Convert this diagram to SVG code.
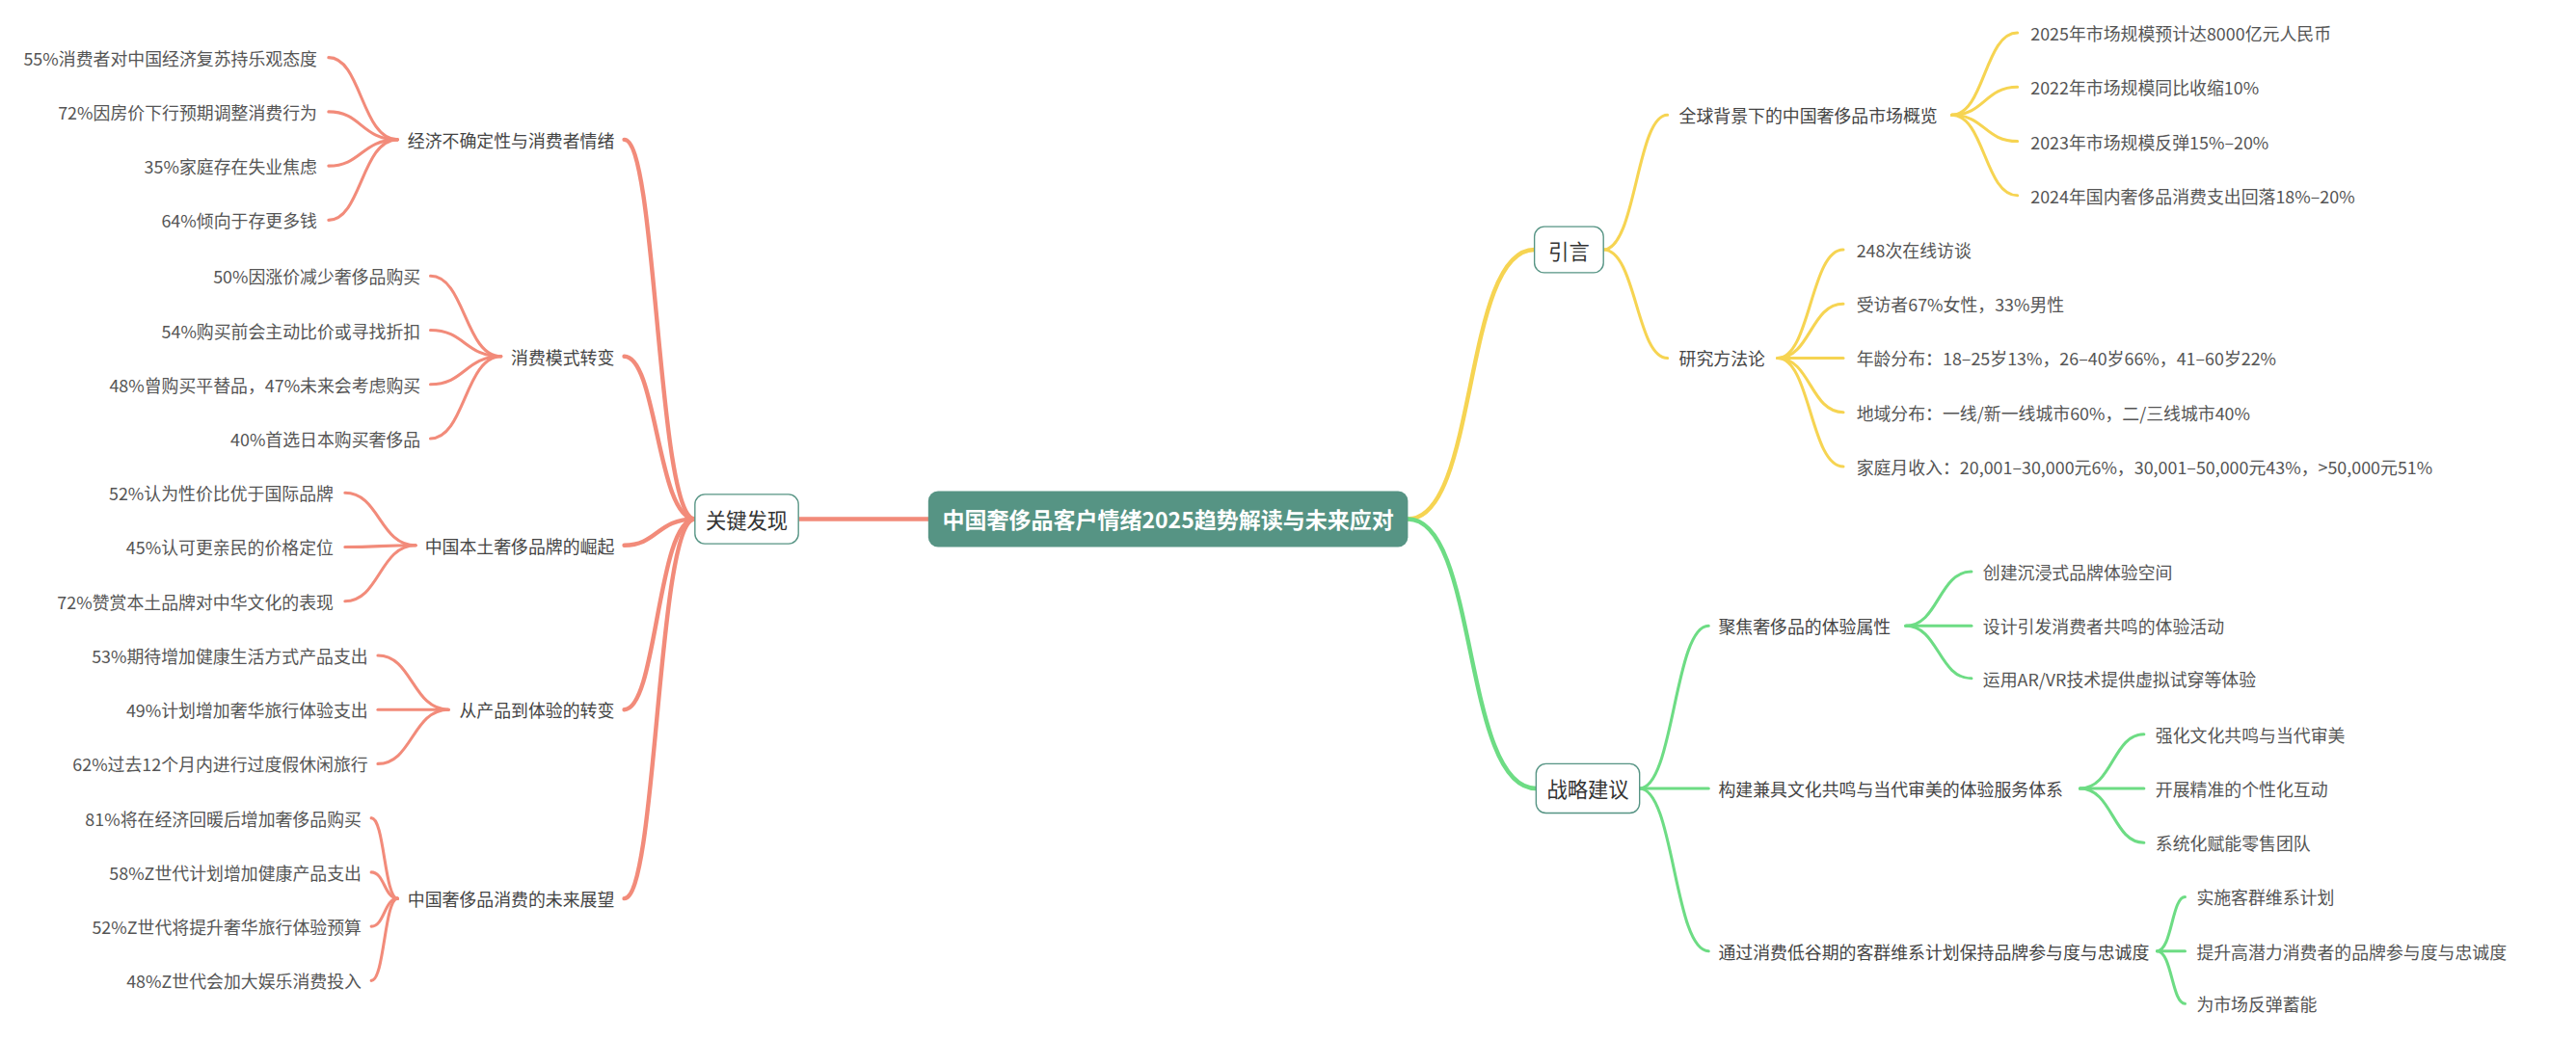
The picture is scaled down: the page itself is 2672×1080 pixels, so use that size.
<svg xmlns="http://www.w3.org/2000/svg" width="2672" height="1080" viewBox="0 0 2672 1080">
<style>
text{font-family:"Noto Sans CJK SC","Noto Sans",sans-serif;dominant-baseline:central}
.leaf{font-size:10.5px;fill:#555}
.sub{font-size:10.5px;fill:#444}
.main{font-size:12.5px;fill:#333;text-anchor:middle}
.r{text-anchor:end}
.box{fill:#fff;stroke:#569484;stroke-width:0.8}
path{fill:none;stroke-linecap:round}
.red path{stroke:#f28b7a;stroke-width:1.8}
.yel path{stroke:#f6d452;stroke-width:1.8}
.grn path{stroke:#6ddc84;stroke-width:1.8}
.thick{stroke-width:2.6 !important}
</style>
<rect width="2672" height="1080" fill="#fff"/>
<g transform="scale(1.7041)">
<g id="connectors">
<g class="red">
<path class="thick" d="M565 316 H486"/>
<path class="thick" d="M423 316 C400 316 400 85 380 85"/>
<path class="thick" d="M423 316 C400 316 400 217 380 217"/>
<path class="thick" d="M423 316 C400 316 400 332 380 332"/>
<path class="thick" d="M423 316 C400 316 400 432 380 432"/>
<path class="thick" d="M423 316 C400 316 400 547 380 547"/>
<path d="M242 85 C220 85 220 35 200 35"/><path d="M242 85 C220 85 220 68 200 68"/><path d="M242 85 C220 85 220 101 200 101"/><path d="M242 85 C220 85 220 134 200 134"/>
<path d="M305 217 C283 217 283 168 262 168"/><path d="M305 217 C283 217 283 201 262 201"/><path d="M305 217 C283 217 283 234 262 234"/><path d="M305 217 C283 217 283 267 262 267"/>
<path d="M253 332 C231 332 231 300 210 300"/><path d="M253 332 C231 332 231 333 210 333"/><path d="M253 332 C231 332 231 366 210 366"/>
<path d="M273 432 C251 432 251 399 230 399"/><path d="M273 432 C251 432 251 432 230 432"/><path d="M273 432 C251 432 251 465 230 465"/>
<path d="M242 547 C234 547 234 498 226 498"/><path d="M242 547 C234 547 234 531 226 531"/><path d="M242 547 C234 547 234 564 226 564"/><path d="M242 547 C234 547 234 597 226 597"/>
</g>
<g class="yel">
<path class="thick" d="M857 316 C900 316 890 152 934 152"/>
<path d="M976 152 C996 152 996 70 1015 70"/><path d="M976 152 C996 152 996 218 1015 218"/>
<path d="M1188 70 C1208 70 1208 20 1228 20"/><path d="M1188 70 C1208 70 1208 53 1228 53"/><path d="M1188 70 C1208 70 1208 86 1228 86"/><path d="M1188 70 C1208 70 1208 119 1228 119"/>
<path d="M1082 218 C1102 218 1102 152 1122 152"/><path d="M1082 218 C1102 218 1102 185 1122 185"/><path d="M1082 218 C1102 218 1102 218 1122 218"/><path d="M1082 218 C1102 218 1102 251 1122 251"/><path d="M1082 218 C1102 218 1102 284 1122 284"/>
</g>
<g class="grn">
<path class="thick" d="M857 316 C900 316 890 480 935 480"/>
<path d="M998 480 C1019 480 1019 381 1040 381"/><path d="M998 480 H1040"/><path d="M998 480 C1019 480 1019 579 1040 579"/>
<path d="M1160 381 C1180 381 1180 348 1200 348"/><path d="M1160 381 H1200"/><path d="M1160 381 C1180 381 1180 413 1200 413"/>
<path d="M1266 480 C1286 480 1286 447 1305 447"/><path d="M1266 480 H1305"/><path d="M1266 480 C1286 480 1286 513 1305 513"/>
<path d="M1313 579 C1322 579 1322 546 1330 546"/><path d="M1313 579 H1330"/><path d="M1313 579 C1322 579 1322 611 1330 611"/>
</g>
</g>
<g id="root"><rect x="565" y="299" width="292" height="34" rx="6" fill="#569484"/><text x="711" y="316" text-anchor="middle" font-size="13.5" font-weight="bold" fill="#fff">中国奢侈品客户情绪2025趋势解读与未来应对</text></g>
<g id="n-findings"><rect class="box" x="423" y="301" width="63" height="30" rx="6"/><text class="main" x="454.5" y="316">关键发现</text></g>
<g id="n-intro"><rect class="box" x="934" y="138" width="42" height="28" rx="6"/><text class="main" x="955" y="152">引言</text></g>
<g id="n-strategy"><rect class="box" x="935" y="465" width="63" height="30" rx="6"/><text class="main" x="966.5" y="480">战略建议</text></g>
<g id="left-subs">
<text class="sub r" x="374" y="85">经济不确定性与消费者情绪</text>
<text class="sub r" x="374" y="217">消费模式转变</text>
<text class="sub r" x="374" y="332">中国本土奢侈品牌的崛起</text>
<text class="sub r" x="374" y="432">从产品到体验的转变</text>
<text class="sub r" x="374" y="547">中国奢侈品消费的未来展望</text>
</g>
<g id="left-leaves">
<text class="leaf r" x="193" y="35">55%消费者对中国经济复苏持乐观态度</text>
<text class="leaf r" x="193" y="68">72%因房价下行预期调整消费行为</text>
<text class="leaf r" x="193" y="101">35%家庭存在失业焦虑</text>
<text class="leaf r" x="193" y="134">64%倾向于存更多钱</text>
<text class="leaf r" x="256" y="168">50%因涨价减少奢侈品购买</text>
<text class="leaf r" x="256" y="201">54%购买前会主动比价或寻找折扣</text>
<text class="leaf r" x="256" y="234">48%曾购买平替品，47%未来会考虑购买</text>
<text class="leaf r" x="256" y="267">40%首选日本购买奢侈品</text>
<text class="leaf r" x="203" y="300">52%认为性价比优于国际品牌</text>
<text class="leaf r" x="203" y="333">45%认可更亲民的价格定位</text>
<text class="leaf r" x="203" y="366">72%赞赏本土品牌对中华文化的表现</text>
<text class="leaf r" x="224" y="399">53%期待增加健康生活方式产品支出</text>
<text class="leaf r" x="224" y="432">49%计划增加奢华旅行体验支出</text>
<text class="leaf r" x="224" y="465">62%过去12个月内进行过度假休闲旅行</text>
<text class="leaf r" x="220" y="498">81%将在经济回暖后增加奢侈品购买</text>
<text class="leaf r" x="220" y="531">58%Z世代计划增加健康产品支出</text>
<text class="leaf r" x="220" y="564">52%Z世代将提升奢华旅行体验预算</text>
<text class="leaf r" x="220" y="597">48%Z世代会加大娱乐消费投入</text>
</g>
<g id="right-subs">
<text class="sub" x="1022" y="70">全球背景下的中国奢侈品市场概览</text>
<text class="sub" x="1022" y="218">研究方法论</text>
<text class="sub" x="1046" y="381">聚焦奢侈品的体验属性</text>
<text class="sub" x="1046" y="480">构建兼具文化共鸣与当代审美的体验服务体系</text>
<text class="sub" x="1046" y="579">通过消费低谷期的客群维系计划保持品牌参与度与忠诚度</text>
</g>
<g id="right-leaves">
<text class="leaf" x="1236" y="20">2025年市场规模预计达8000亿元人民币</text>
<text class="leaf" x="1236" y="53">2022年市场规模同比收缩10%</text>
<text class="leaf" x="1236" y="86">2023年市场规模反弹15%–20%</text>
<text class="leaf" x="1236" y="119">2024年国内奢侈品消费支出回落18%–20%</text>
<text class="leaf" x="1130" y="152">248次在线访谈</text>
<text class="leaf" x="1130" y="185">受访者67%女性，33%男性</text>
<text class="leaf" x="1130" y="218">年龄分布：18–25岁13%，26–40岁66%，41–60岁22%</text>
<text class="leaf" x="1130" y="251">地域分布：一线/新一线城市60%，二/三线城市40%</text>
<text class="leaf" x="1130" y="284">家庭月收入：20,001–30,000元6%，30,001–50,000元43%，&gt;50,000元51%</text>
<text class="leaf" x="1207" y="348">创建沉浸式品牌体验空间</text>
<text class="leaf" x="1207" y="381">设计引发消费者共鸣的体验活动</text>
<text class="leaf" x="1207" y="413">运用AR/VR技术提供虚拟试穿等体验</text>
<text class="leaf" x="1312" y="447">强化文化共鸣与当代审美</text>
<text class="leaf" x="1312" y="480">开展精准的个性化互动</text>
<text class="leaf" x="1312" y="513">系统化赋能零售团队</text>
<text class="leaf" x="1337" y="546">实施客群维系计划</text>
<text class="leaf" x="1337" y="579">提升高潜力消费者的品牌参与度与忠诚度</text>
<text class="leaf" x="1337" y="611">为市场反弹蓄能</text>
</g>
</g>
</svg>
